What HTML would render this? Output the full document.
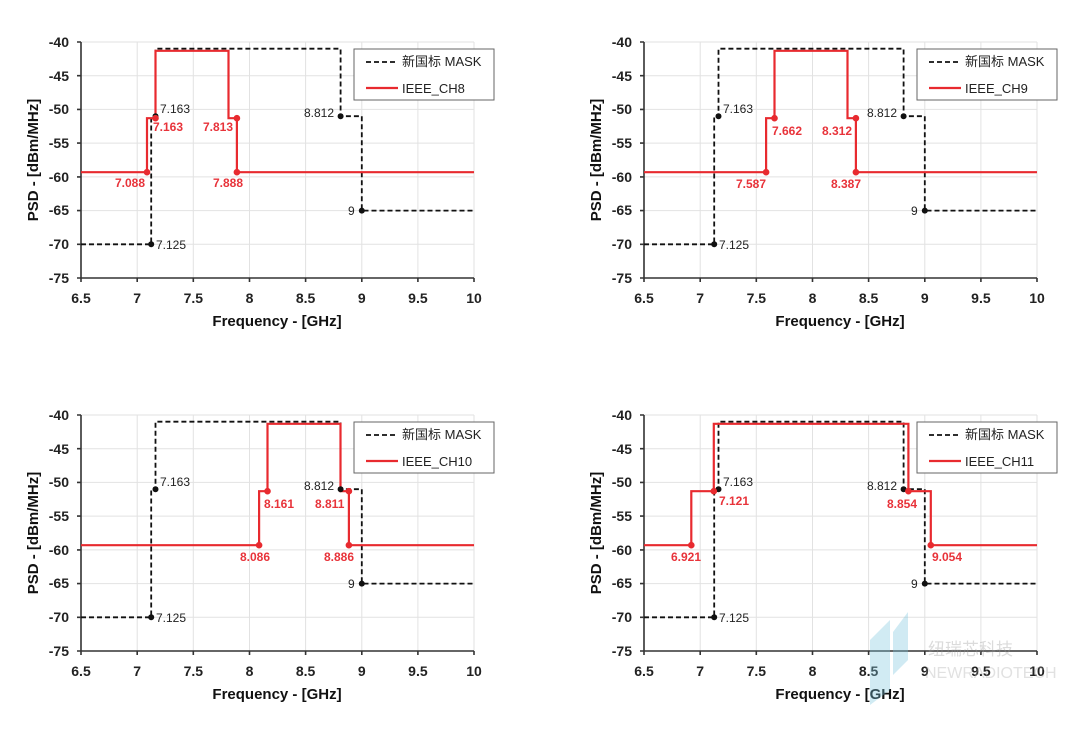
<!DOCTYPE html>
<html><head><meta charset="utf-8"><style>
body{margin:0;background:#fff}
svg{display:block}
text{font-family:"Liberation Sans","Noto Sans CJK SC",sans-serif}
.tk{font-size:14px;font-weight:bold;fill:#222}
.ti{font-size:15px;font-weight:bold;fill:#111}
.lb{font-size:12px;fill:#222}
.rl{font-size:12px;font-weight:bold;fill:#e8333a}
.lg{font-size:13px;fill:#222}
.g{stroke:#e2e2e2;stroke-width:1}
.m{fill:none;stroke:#111;stroke-width:1.8;stroke-dasharray:5,3}
.r{fill:none;stroke:#e82a2f;stroke-width:2.2}
</style></head><body>
<svg width="1080" height="731" viewBox="0 0 1080 731" xmlns="http://www.w3.org/2000/svg">

<!-- CHART 1 -->
<g transform="translate(0,0)">
<g class="g"><line x1="137.2" y1="42" x2="137.2" y2="278"/><line x1="193.3" y1="42" x2="193.3" y2="278"/><line x1="249.5" y1="42" x2="249.5" y2="278"/><line x1="305.6" y1="42" x2="305.6" y2="278"/><line x1="361.8" y1="42" x2="361.8" y2="278"/><line x1="417.9" y1="42" x2="417.9" y2="278"/><line x1="474" y1="42" x2="474" y2="278"/>
<line x1="81" y1="42" x2="474" y2="42"/><line x1="81" y1="75.7" x2="474" y2="75.7"/><line x1="81" y1="109.4" x2="474" y2="109.4"/><line x1="81" y1="143.1" x2="474" y2="143.1"/><line x1="81" y1="176.9" x2="474" y2="176.9"/><line x1="81" y1="210.6" x2="474" y2="210.6"/><line x1="81" y1="244.3" x2="474" y2="244.3"/></g>
<path d="M81,42V278H474M77,42H81M77,75.7H81M77,109.4H81M77,143.1H81M77,176.9H81M77,210.6H81M77,244.3H81M77,278H81M81,278V282M137.2,278V282M193.3,278V282M249.5,278V282M305.6,278V282M361.8,278V282M417.9,278V282M474,278V282" stroke="#333" stroke-width="1.6" fill="none"/>
<g class="tk" text-anchor="end"><text x="69" y="47">-40</text><text x="69" y="81">-45</text><text x="69" y="114">-50</text><text x="69" y="148">-55</text><text x="69" y="182">-60</text><text x="69" y="215">-65</text><text x="69" y="249">-70</text><text x="69" y="283">-75</text></g>
<g class="tk" text-anchor="middle"><text x="81" y="303">6.5</text><text x="137.2" y="303">7</text><text x="193.3" y="303">7.5</text><text x="249.5" y="303">8</text><text x="305.6" y="303">8.5</text><text x="361.8" y="303">9</text><text x="417.9" y="303">9.5</text><text x="474" y="303">10</text></g>
<text class="ti" x="277" y="326" text-anchor="middle">Frequency - [GHz]</text>
<text class="ti" transform="translate(38,160) rotate(-90)" text-anchor="middle">PSD - [dBm/MHz]</text>
<path class="m" d="M81,244.3H151.2V116.2H155.5V48.7H340.6V116.2H361.8V210.6H474"/>
<path class="r" d="M81,172.2H147V118.2H155.5V50.8H228.5V118.2H236.9V172.2H474"/>
<g fill="#111"><circle cx="151.2" cy="244.3" r="3"/><circle cx="155.5" cy="116.2" r="3"/><circle cx="340.6" cy="116.2" r="3"/><circle cx="361.8" cy="210.6" r="3"/></g>
<g fill="#e82a2f"><circle cx="147" cy="172.2" r="3.3"/><circle cx="155.5" cy="118.2" r="3.3"/><circle cx="236.9" cy="118.2" r="3.3"/><circle cx="236.9" cy="172.2" r="3.3"/></g>
<text class="lb" x="160" y="113">7.163</text><text class="lb" x="156" y="249">7.125</text><text class="lb" x="304" y="117">8.812</text><text class="lb" x="348" y="215">9</text>
<text class="rl" x="153" y="131">7.163</text><text class="rl" x="203" y="131">7.813</text><text class="rl" x="115" y="187">7.088</text><text class="rl" x="213" y="187">7.888</text>
<rect x="354" y="49" width="140" height="51" fill="#fff" stroke="#666" stroke-width="1"/>
<line x1="366" y1="62" x2="398" y2="62" class="m"/><text class="lg" x="402" y="66">新国标 MASK</text>
<line x1="366" y1="88" x2="398" y2="88" class="r"/><text class="lg" x="402" y="93">IEEE_CH8</text>
</g>

<!-- CHART 2 -->
<g transform="translate(563,0)">
<g class="g"><line x1="137.2" y1="42" x2="137.2" y2="278"/><line x1="193.3" y1="42" x2="193.3" y2="278"/><line x1="249.5" y1="42" x2="249.5" y2="278"/><line x1="305.6" y1="42" x2="305.6" y2="278"/><line x1="361.8" y1="42" x2="361.8" y2="278"/><line x1="417.9" y1="42" x2="417.9" y2="278"/><line x1="474" y1="42" x2="474" y2="278"/>
<line x1="81" y1="42" x2="474" y2="42"/><line x1="81" y1="75.7" x2="474" y2="75.7"/><line x1="81" y1="109.4" x2="474" y2="109.4"/><line x1="81" y1="143.1" x2="474" y2="143.1"/><line x1="81" y1="176.9" x2="474" y2="176.9"/><line x1="81" y1="210.6" x2="474" y2="210.6"/><line x1="81" y1="244.3" x2="474" y2="244.3"/></g>
<path d="M81,42V278H474M77,42H81M77,75.7H81M77,109.4H81M77,143.1H81M77,176.9H81M77,210.6H81M77,244.3H81M77,278H81M81,278V282M137.2,278V282M193.3,278V282M249.5,278V282M305.6,278V282M361.8,278V282M417.9,278V282M474,278V282" stroke="#333" stroke-width="1.6" fill="none"/>
<g class="tk" text-anchor="end"><text x="69" y="47">-40</text><text x="69" y="81">-45</text><text x="69" y="114">-50</text><text x="69" y="148">-55</text><text x="69" y="182">-60</text><text x="69" y="215">-65</text><text x="69" y="249">-70</text><text x="69" y="283">-75</text></g>
<g class="tk" text-anchor="middle"><text x="81" y="303">6.5</text><text x="137.2" y="303">7</text><text x="193.3" y="303">7.5</text><text x="249.5" y="303">8</text><text x="305.6" y="303">8.5</text><text x="361.8" y="303">9</text><text x="417.9" y="303">9.5</text><text x="474" y="303">10</text></g>
<text class="ti" x="277" y="326" text-anchor="middle">Frequency - [GHz]</text>
<text class="ti" transform="translate(38,160) rotate(-90)" text-anchor="middle">PSD - [dBm/MHz]</text>
<path class="m" d="M81,244.3H151.2V116.2H155.5V48.7H340.6V116.2H361.8V210.6H474"/>
<path class="r" d="M81,172.2H203.1V118.2H211.5V50.8H284.5V118.2H292.9V172.2H474"/>
<g fill="#111"><circle cx="151.2" cy="244.3" r="3"/><circle cx="155.5" cy="116.2" r="3"/><circle cx="340.6" cy="116.2" r="3"/><circle cx="361.8" cy="210.6" r="3"/></g>
<g fill="#e82a2f"><circle cx="203.1" cy="172.2" r="3.3"/><circle cx="211.5" cy="118.2" r="3.3"/><circle cx="292.9" cy="118.2" r="3.3"/><circle cx="292.9" cy="172.2" r="3.3"/></g>
<text class="lb" x="160" y="113">7.163</text><text class="lb" x="156" y="249">7.125</text><text class="lb" x="304" y="117">8.812</text><text class="lb" x="348" y="215">9</text>
<text class="rl" x="209" y="135">7.662</text><text class="rl" x="259" y="135">8.312</text><text class="rl" x="173" y="188">7.587</text><text class="rl" x="268" y="188">8.387</text>
<rect x="354" y="49" width="140" height="51" fill="#fff" stroke="#666" stroke-width="1"/>
<line x1="366" y1="62" x2="398" y2="62" class="m"/><text class="lg" x="402" y="66">新国标 MASK</text>
<line x1="366" y1="88" x2="398" y2="88" class="r"/><text class="lg" x="402" y="93">IEEE_CH9</text>
</g>

<!-- CHART 3 -->
<g transform="translate(0,373)">
<g class="g"><line x1="137.2" y1="42" x2="137.2" y2="278"/><line x1="193.3" y1="42" x2="193.3" y2="278"/><line x1="249.5" y1="42" x2="249.5" y2="278"/><line x1="305.6" y1="42" x2="305.6" y2="278"/><line x1="361.8" y1="42" x2="361.8" y2="278"/><line x1="417.9" y1="42" x2="417.9" y2="278"/><line x1="474" y1="42" x2="474" y2="278"/>
<line x1="81" y1="42" x2="474" y2="42"/><line x1="81" y1="75.7" x2="474" y2="75.7"/><line x1="81" y1="109.4" x2="474" y2="109.4"/><line x1="81" y1="143.1" x2="474" y2="143.1"/><line x1="81" y1="176.9" x2="474" y2="176.9"/><line x1="81" y1="210.6" x2="474" y2="210.6"/><line x1="81" y1="244.3" x2="474" y2="244.3"/></g>
<path d="M81,42V278H474M77,42H81M77,75.7H81M77,109.4H81M77,143.1H81M77,176.9H81M77,210.6H81M77,244.3H81M77,278H81M81,278V282M137.2,278V282M193.3,278V282M249.5,278V282M305.6,278V282M361.8,278V282M417.9,278V282M474,278V282" stroke="#333" stroke-width="1.6" fill="none"/>
<g class="tk" text-anchor="end"><text x="69" y="47">-40</text><text x="69" y="81">-45</text><text x="69" y="114">-50</text><text x="69" y="148">-55</text><text x="69" y="182">-60</text><text x="69" y="215">-65</text><text x="69" y="249">-70</text><text x="69" y="283">-75</text></g>
<g class="tk" text-anchor="middle"><text x="81" y="303">6.5</text><text x="137.2" y="303">7</text><text x="193.3" y="303">7.5</text><text x="249.5" y="303">8</text><text x="305.6" y="303">8.5</text><text x="361.8" y="303">9</text><text x="417.9" y="303">9.5</text><text x="474" y="303">10</text></g>
<text class="ti" x="277" y="326" text-anchor="middle">Frequency - [GHz]</text>
<text class="ti" transform="translate(38,160) rotate(-90)" text-anchor="middle">PSD - [dBm/MHz]</text>
<path class="m" d="M81,244.3H151.2V116.2H155.5V48.7H340.6V116.2H361.8V210.6H474"/>
<path class="r" d="M81,172.2H259.1V118.2H267.5V50.8H340.5V118.2H348.9V172.2H474"/>
<g fill="#111"><circle cx="151.2" cy="244.3" r="3"/><circle cx="155.5" cy="116.2" r="3"/><circle cx="340.6" cy="116.2" r="3"/><circle cx="361.8" cy="210.6" r="3"/></g>
<g fill="#e82a2f"><circle cx="259.1" cy="172.2" r="3.3"/><circle cx="267.5" cy="118.2" r="3.3"/><circle cx="348.9" cy="118.2" r="3.3"/><circle cx="348.9" cy="172.2" r="3.3"/></g>
<text class="lb" x="160" y="113">7.163</text><text class="lb" x="156" y="249">7.125</text><text class="lb" x="304" y="117">8.812</text><text class="lb" x="348" y="215">9</text>
<text class="rl" x="264" y="135">8.161</text><text class="rl" x="315" y="135">8.811</text><text class="rl" x="240" y="188">8.086</text><text class="rl" x="324" y="188">8.886</text>
<rect x="354" y="49" width="140" height="51" fill="#fff" stroke="#666" stroke-width="1"/>
<line x1="366" y1="62" x2="398" y2="62" class="m"/><text class="lg" x="402" y="66">新国标 MASK</text>
<line x1="366" y1="88" x2="398" y2="88" class="r"/><text class="lg" x="402" y="93">IEEE_CH10</text>
</g>

<!-- CHART 4 -->
<g transform="translate(563,373)">
<g class="g"><line x1="137.2" y1="42" x2="137.2" y2="278"/><line x1="193.3" y1="42" x2="193.3" y2="278"/><line x1="249.5" y1="42" x2="249.5" y2="278"/><line x1="305.6" y1="42" x2="305.6" y2="278"/><line x1="361.8" y1="42" x2="361.8" y2="278"/><line x1="417.9" y1="42" x2="417.9" y2="278"/><line x1="474" y1="42" x2="474" y2="278"/>
<line x1="81" y1="42" x2="474" y2="42"/><line x1="81" y1="75.7" x2="474" y2="75.7"/><line x1="81" y1="109.4" x2="474" y2="109.4"/><line x1="81" y1="143.1" x2="474" y2="143.1"/><line x1="81" y1="176.9" x2="474" y2="176.9"/><line x1="81" y1="210.6" x2="474" y2="210.6"/><line x1="81" y1="244.3" x2="474" y2="244.3"/></g>
<path d="M81,42V278H474M77,42H81M77,75.7H81M77,109.4H81M77,143.1H81M77,176.9H81M77,210.6H81M77,244.3H81M77,278H81M81,278V282M137.2,278V282M193.3,278V282M249.5,278V282M305.6,278V282M361.8,278V282M417.9,278V282M474,278V282" stroke="#333" stroke-width="1.6" fill="none"/>
<g class="tk" text-anchor="end"><text x="69" y="47">-40</text><text x="69" y="81">-45</text><text x="69" y="114">-50</text><text x="69" y="148">-55</text><text x="69" y="182">-60</text><text x="69" y="215">-65</text><text x="69" y="249">-70</text><text x="69" y="283">-75</text></g>
<g class="tk" text-anchor="middle"><text x="81" y="303">6.5</text><text x="137.2" y="303">7</text><text x="193.3" y="303">7.5</text><text x="249.5" y="303">8</text><text x="305.6" y="303">8.5</text><text x="361.8" y="303">9</text><text x="417.9" y="303">9.5</text><text x="474" y="303">10</text></g>
<text class="ti" x="277" y="326" text-anchor="middle">Frequency - [GHz]</text>
<text class="ti" transform="translate(38,160) rotate(-90)" text-anchor="middle">PSD - [dBm/MHz]</text>
<path class="m" d="M81,244.3H151.2V116.2H155.5V48.7H340.6V116.2H361.8V210.6H474"/>
<path class="r" d="M81,172.2H128.3V118.2H150.8V50.8H345.4V118.2H367.8V172.2H474"/>
<g fill="#111"><circle cx="151.2" cy="244.3" r="3"/><circle cx="155.5" cy="116.2" r="3"/><circle cx="340.6" cy="116.2" r="3"/><circle cx="361.8" cy="210.6" r="3"/></g>
<g fill="#e82a2f"><circle cx="128.3" cy="172.2" r="3.3"/><circle cx="150.8" cy="118.2" r="3.3"/><circle cx="345.4" cy="118.2" r="3.3"/><circle cx="367.8" cy="172.2" r="3.3"/></g>
<text class="lb" x="160" y="113">7.163</text><text class="lb" x="156" y="249">7.125</text><text class="lb" x="304" y="117">8.812</text><text class="lb" x="348" y="215">9</text>
<text class="rl" x="156" y="132">7.121</text><text class="rl" x="324" y="135">8.854</text><text class="rl" x="108" y="188">6.921</text><text class="rl" x="369" y="188">9.054</text>
<rect x="354" y="49" width="140" height="51" fill="#fff" stroke="#666" stroke-width="1"/>
<line x1="366" y1="62" x2="398" y2="62" class="m"/><text class="lg" x="402" y="66">新国标 MASK</text>
<line x1="366" y1="88" x2="398" y2="88" class="r"/><text class="lg" x="402" y="93">IEEE_CH11</text>
</g>

<!-- watermark -->
<g opacity="0.35">
<polygon points="870,640 890,620 890,690 870,705" fill="#7cc6de"/>
<polygon points="893,632 908,612 908,660 893,675" fill="#7cc6de"/>
<text x="928" y="655" font-size="17" fill="#999" font-family="'Noto Sans CJK SC',sans-serif">纽瑞芯科技</text>
<text x="925" y="678" font-size="16" fill="#aaa">NEWRADIOTECH</text>
</g>
</svg>
</body></html>
